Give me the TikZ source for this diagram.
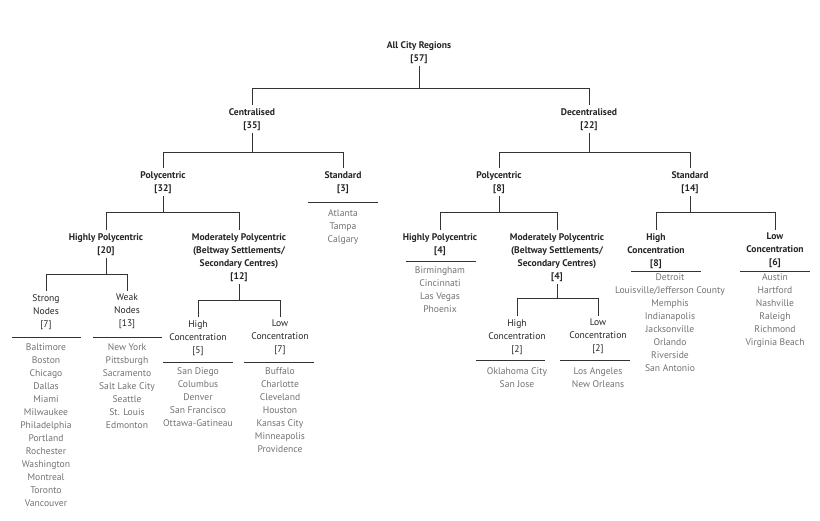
\documentclass[tikz,border=0pt]{standalone}
\usepackage{fontspec}
\setmainfont{PT Sans}
\begin{document}
\begin{tikzpicture}[x=1pt,y=-1pt,
  base/.style={anchor=north,align=center,inner sep=0pt,font=\fontsize{9.6}{13}\selectfont,text=black!85},
  hd/.style={base,font=\fontsize{9.6}{13}\selectfont\bfseries},
  lf/.style={base},
  lst/.style={base,text=black!55},
  ln/.style={draw=black!80,line width=0.9pt}]
\useasboundingbox[fill=white] (0,0) rectangle (820,520);
\newcommand\branch[4]{\draw[ln] ([yshift=-3pt]#1.south) -- (#1.south |- 0,#4) coordinate(tmp);
  \draw[ln] ([yshift=3pt]#2.north) |- (#3.north |- 0,#4) -- ([yshift=3pt]#3.north);}
\node[hd] (all) at (419,41) {All City Regions\\{}[57]};
\node[hd] (cen) at (252,108) {Centralised\\{}[35]};
\node[hd] (dec) at (589,108) {Decentralised\\{}[22]};
\node[hd] (cp) at (163,171) {Polycentric\\{}[32]};
\node[hd] (cs) at (343,171) {Standard\\{}[3]};
\node[hd] (dp) at (499,171) {Polycentric\\{}[8]};
\node[hd] (ds) at (690,171) {Standard\\{}[14]};
\node[hd] (chp) at (106,233) {Highly Polycentric\\{}[20]};
\node[hd] (cmp) at (239,233) {Moderately Polycentric\\(Beltway Settlements/\\Secondary Centres)\\{}[12]};
\node[hd] (dhp) at (440,233) {Highly Polycentric\\{}[4]};
\node[hd] (dmp) at (557,233) {Moderately Polycentric\\(Beltway Settlements/\\Secondary Centres)\\{}[4]};
\node[hd] (dsh) at (656,233) {High\\Concentration\\{}[8]};
\node[hd] (dsl) at (775,233) {Low\\Concentration\\{}[6]};
\node[lf] (sn) at (46,294) {Strong\\Nodes\\{}[7]};
\node[lf] (wn) at (127,294) {Weak\\Nodes\\{}[13]};
\node[lf] (ch) at (198,320) {High\\Concentration\\{}[5]};
\node[lf] (cl) at (280,320) {Low\\Concentration\\{}[7]};
\node[lf] (dh) at (517,319) {High\\Concentration\\{}[2]};
\node[lf] (dl) at (598,319) {Low\\Concentration\\{}[2]};
\branch{all}{cen}{dec}{88}
\branch{cen}{cp}{cs}{152}
\branch{dec}{dp}{ds}{152}
\branch{cp}{chp}{cmp}{212}
\branch{dp}{dhp}{dmp}{212}
\branch{ds}{dsh}{dsl}{212}
\branch{chp}{sn}{wn}{274}
\branch{cmp}{ch}{cl}{300}
\branch{dmp}{dh}{dl}{298}
% underlines
\draw[ln] (308,202) -- (378,202);
\draw[ln] (406,261) -- (476,261);
\draw[ln] (631,271) -- (701,271);
\draw[ln] (740,271) -- (810,271);
\draw[ln] (12,337) -- (81,337);
\draw[ln] (93,337) -- (162,337);
\draw[ln] (163,362) -- (233,362);
\draw[ln] (244,362) -- (314,362);
\draw[ln] (476,360) -- (545,360);
\draw[ln] (560,360) -- (630,360);
% lists
\node[lst] (l1) at (343,209) {Atlanta\\Tampa\\Calgary};
\node[lst] (l2) at (440,266) {Birmingham\\Cincinnati\\Las Vegas\\Phoenix};
\node[lst] (l3) at (670,273) {Detroit\\Louisville/Jefferson County\\Memphis\\Indianapolis\\Jacksonville\\Orlando\\Riverside\\San Antonio};
\node[lst] (l4) at (775,273) {Austin\\Hartford\\Nashville\\Raleigh\\Richmond\\Virginia Beach};
\node[lst] (l5) at (46,343) {Baltimore\\Boston\\Chicago\\Dallas\\Miami\\Milwaukee\\Philadelphia\\Portland\\Rochester\\Washington\\Montreal\\Toronto\\Vancouver};
\node[lst] (l6) at (127,343) {New York\\Pittsburgh\\Sacramento\\Salt Lake City\\Seattle\\St. Louis\\Edmonton};
\node[lst] (l7) at (198,367) {San Diego\\Columbus\\Denver\\San Francisco\\Ottawa-Gatineau};
\node[lst] (l8) at (280,367) {Buffalo\\Charlotte\\Cleveland\\Houston\\Kansas City\\Minneapolis\\Providence};
\node[lst] (l9) at (517,367) {Oklahoma City\\San Jose};
\node[lst] (l10) at (598,367) {Los Angeles\\New Orleans};
\end{tikzpicture}
\end{document}
